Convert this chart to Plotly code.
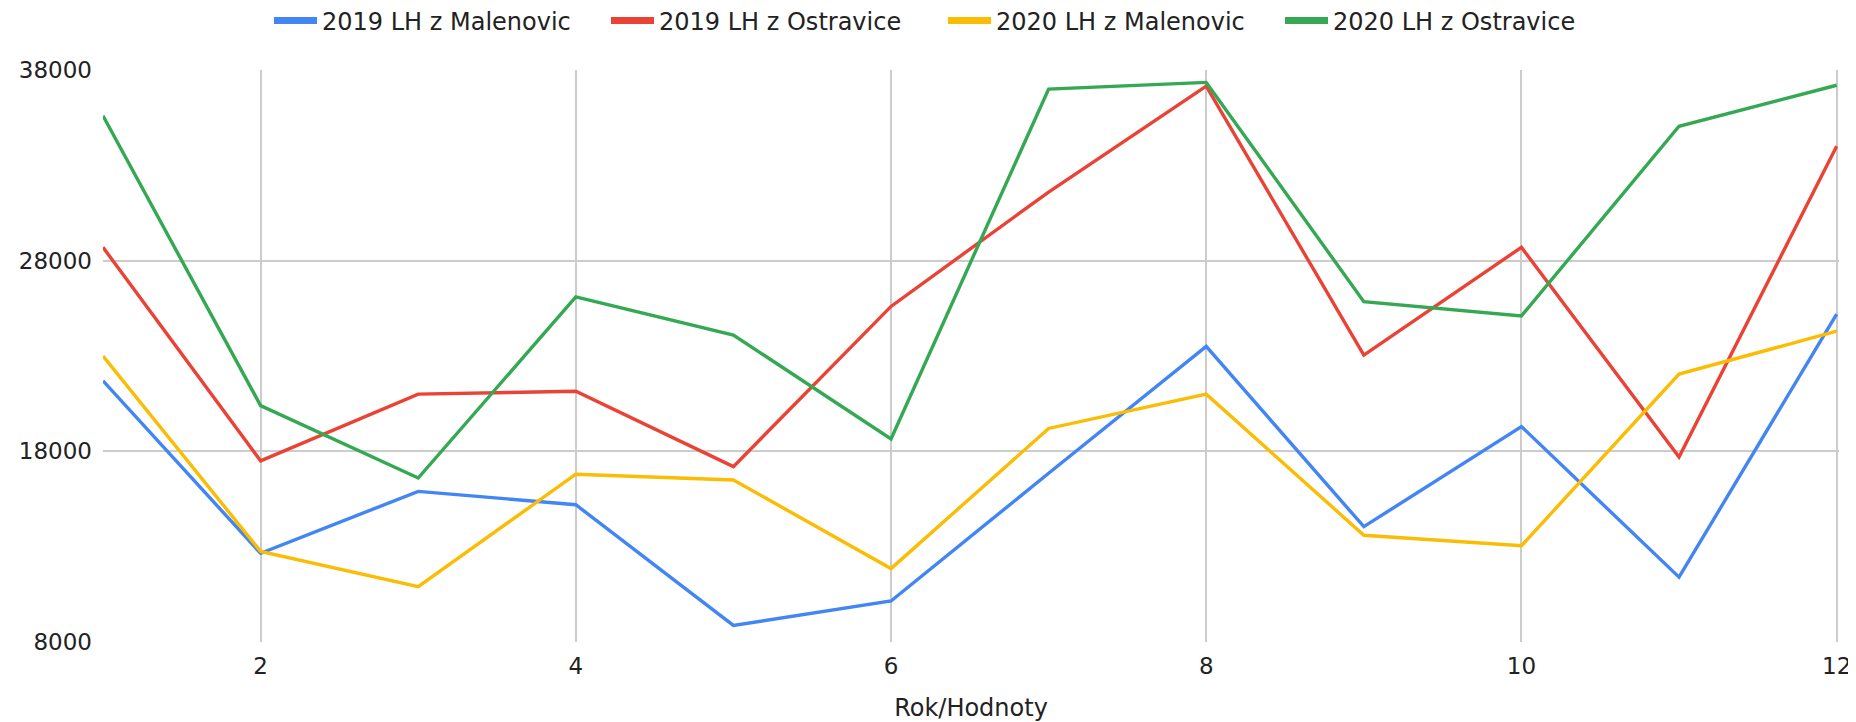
import plotly.graph_objects as go

months = [1, 2, 3, 4, 5, 6, 7, 8, 9, 10, 11, 12]
series_names = ["2019 LH z Malenovic", "2019 LH z Ostravice", "2020 LH z Malenovic", "2020 LH z Ostravice"]
malenovic_2019 = [21700, 12650, 15900, 15200, 8870, 10150, 16850, 23500, 14050, 19300, 11400, 25200]
ostravice_2019 = [28700, 17500, 21000, 21150, 17200, 25600, 31600, 37150, 23050, 28700, 17700, 34000]
malenovic_2020 = [23000, 12750, 10900, 16800, 16500, 11850, 19200, 21000, 13600, 13050, 22050, 24300]
ostravice_2020 = [35600, 20400, 16600, 26100, 24100, 18650, 37000, 37350, 25850, 25100, 35050, 37200]
colors = ["#4285F4", "#EA4335", "#FBBC04", "#34A853"]
y_ticks = [8000, 18000, 28000, 38000]
x_ticks = [2, 4, 6, 8, 10, 12]
x_title = "Rok/Hodnoty"

all_series = [malenovic_2019, ostravice_2019, malenovic_2020, ostravice_2020]

FONT = "DejaVu Sans"
TXT = "#222222"
# the page body has an 8px margin, so the figure is sized/offset to compensate
W, H = 1848, 714
fig = go.Figure()
for name, vals, col in zip(series_names, all_series, colors):
    fig.add_trace(go.Scatter(x=months, y=vals, mode="lines", name=name,
                             line=dict(color=col, width=3.4), showlegend=False))
# legend-only entries with thick short swatches
for name, col in zip(series_names, colors):
    fig.add_trace(go.Scatter(x=[None], y=[None], mode="lines", name=name,
                             line=dict(color=col, width=7), showlegend=True))

fig.update_layout(
    width=W, height=H,
    margin=dict(l=95, r=17, t=62, b=80, autoexpand=False),
    paper_bgcolor="white", plot_bgcolor="white",
    font=dict(family=FONT, size=23, color=TXT),
    legend=dict(orientation="h", xref="container", yref="container",
                x=261 / W, xanchor="left", y=1 - 13 / H, yanchor="middle",
                font=dict(family=FONT, size=24, color=TXT),
                entrywidth=279, entrywidthmode="pixels", itemwidth=43),
    xaxis=dict(range=[1, 12.015], tickmode="array", tickvals=x_ticks,
               ticktext=[str(v) for v in x_ticks], automargin=False,
               showgrid=True, gridcolor="#cccccc", gridwidth=2,
               zeroline=False, showline=False, ticks="",
               ticklabelstandoff=8, ticklabeloverflow="allow",
               tickfont=dict(family=FONT, size=23, color=TXT),
               title=dict(text=x_title, standoff=27,
                          font=dict(family=FONT, size=24, color=TXT))),
    yaxis=dict(range=[8000, 38000], tickmode="array", tickvals=y_ticks,
               ticktext=[str(v) for v in y_ticks], automargin=False,
               showgrid=True, gridcolor="#cccccc", gridwidth=1.5,
               zeroline=False, showline=False, ticks="",
               ticklabelstandoff=10, ticklabeloverflow="allow",
               tickfont=dict(family=FONT, size=23, color=TXT)),
)

fig.write_html("out.html")
